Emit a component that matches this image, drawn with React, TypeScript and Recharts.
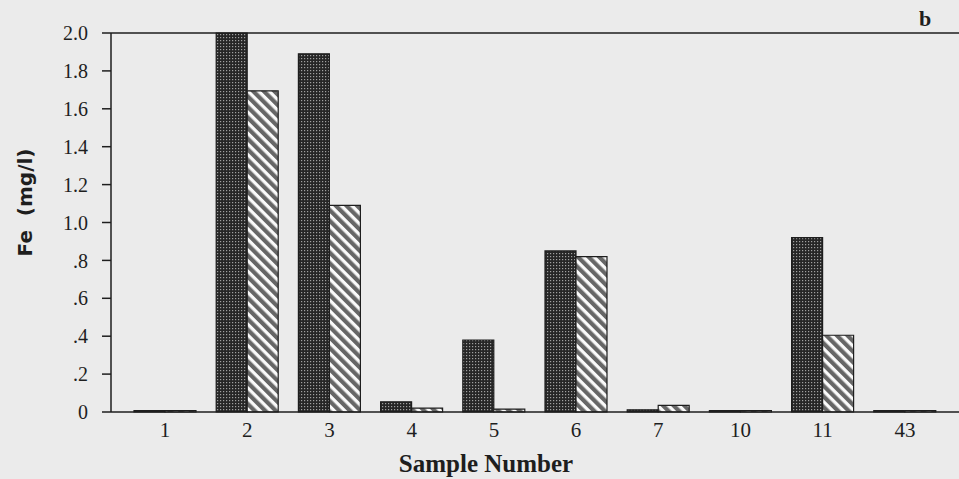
import React from "react";
import { BarChart, Bar, XAxis, YAxis } from "recharts";

// Fe concentration per sample, two series (dotted dark bar, hatched bar)
const SAMPLES = ["1", "2", "3", "4", "5", "6", "7", "10", "11", "43"];
const FE_DOTTED = [0.008, 2.0, 1.89, 0.054, 0.38, 0.85, 0.012, 0.008, 0.92, 0.008];
const FE_HATCHED = [0.008, 1.695, 1.09, 0.02, 0.015, 0.82, 0.035, 0.008, 0.405, 0.008];
const Y_TICKS = [0, 0.2, 0.4, 0.6, 0.8, 1.0, 1.2, 1.4, 1.6, 1.8, 2.0];

const data = SAMPLES.map((s, i) => ({ sample: s, dotted: FE_DOTTED[i], hatched: FE_HATCHED[i] }));

const SERIF = "'Liberation Serif', 'Times New Roman', serif";
const INK = "#1e1e1e";

function formatTick(v: number): string {
  if (v === 0) return "0";
  const s = v.toFixed(1);
  return v < 1 ? s.slice(1) : s;
}

function YLabel(props: { viewBox?: { x: number; y: number; width: number; height: number } }) {
  const vb = props.viewBox ?? { x: 0, y: 0, width: 0, height: 0 };
  const cx = 25;
  const cy = vb.y + vb.height / 2 - 20;
  return (
    <text
      x={cx}
      y={cy}
      transform={`rotate(-90, ${cx}, ${cy})`}
      textAnchor="middle"
      dominantBaseline="central"
      style={{ fontFamily: "'DejaVu Sans', sans-serif", fontWeight: 700, fontSize: 20, fill: INK, whiteSpace: "pre" }}
    >
      {"Fe  (mg/l)"}
    </text>
  );
}

export default function App() {
  return (
    <div style={{ position: "fixed", left: 0, top: 0, width: 959, height: 479, background: "#ebebeb", overflow: "hidden" }}>
      <BarChart width={959} height={479} data={data} margin={{ top: 32, right: 0, bottom: 0, left: 0 }} barGap={0} barSize={31}>
        <defs>
          <pattern id="dots" width="3" height="3" patternUnits="userSpaceOnUse">
            <rect width="3" height="3" fill="#262626" />
            <rect x="1" y="1" width="1.2" height="1.2" fill="#a0a0a0" />
          </pattern>
          <pattern id="hatch" width="7.5" height="7.5" patternUnits="userSpaceOnUse" patternTransform="rotate(-45)">
            <rect width="7.5" height="7.5" fill="#fafafa" />
            <rect width="4.2" height="7.5" fill="#666666" />
          </pattern>
        </defs>
        <XAxis
          dataKey="sample"
          padding={{ left: 13, right: 13 }}
          height={67}
          tickLine={false}
          tickSize={0}
          tickMargin={10}
          axisLine={{ stroke: INK, strokeWidth: 1.5 }}
          tick={{ fontFamily: SERIF, fontSize: 21, fill: INK }}
          label={{
            value: "Sample Number",
            position: "insideBottom",
            offset: 7,
            dx: -49,
            style: { fontFamily: SERIF, fontWeight: 700, fontSize: 25, fill: INK },
          }}
        />
        <XAxis
          xAxisId="top"
          orientation="top"
          dataKey="sample"
          height={1}
          tick={false}
          tickLine={false}
          axisLine={{ stroke: INK, strokeWidth: 1.5 }}
        />
        <YAxis
          width={111}
          domain={[0, 2]}
          ticks={Y_TICKS}
          interval={0}
          tickSize={9}
          tickMargin={14}
          tickFormatter={formatTick}
          tickLine={{ stroke: INK, strokeWidth: 1.5 }}
          axisLine={{ stroke: INK, strokeWidth: 1.5 }}
          tick={{ fontFamily: SERIF, fontSize: 20, fill: INK }}
          label={{ content: <YLabel /> }}
        />
        <Bar dataKey="dotted" fill="url(#dots)" stroke={INK} strokeWidth={1.2} isAnimationActive={false} />
        <Bar dataKey="hatched" fill="url(#hatch)" stroke={INK} strokeWidth={1.2} isAnimationActive={false} />
      </BarChart>
      <div style={{ position: "absolute", left: 919, top: 6, fontFamily: SERIF, fontWeight: 700, fontSize: 22, color: INK }}>b</div>
    </div>
  );
}
